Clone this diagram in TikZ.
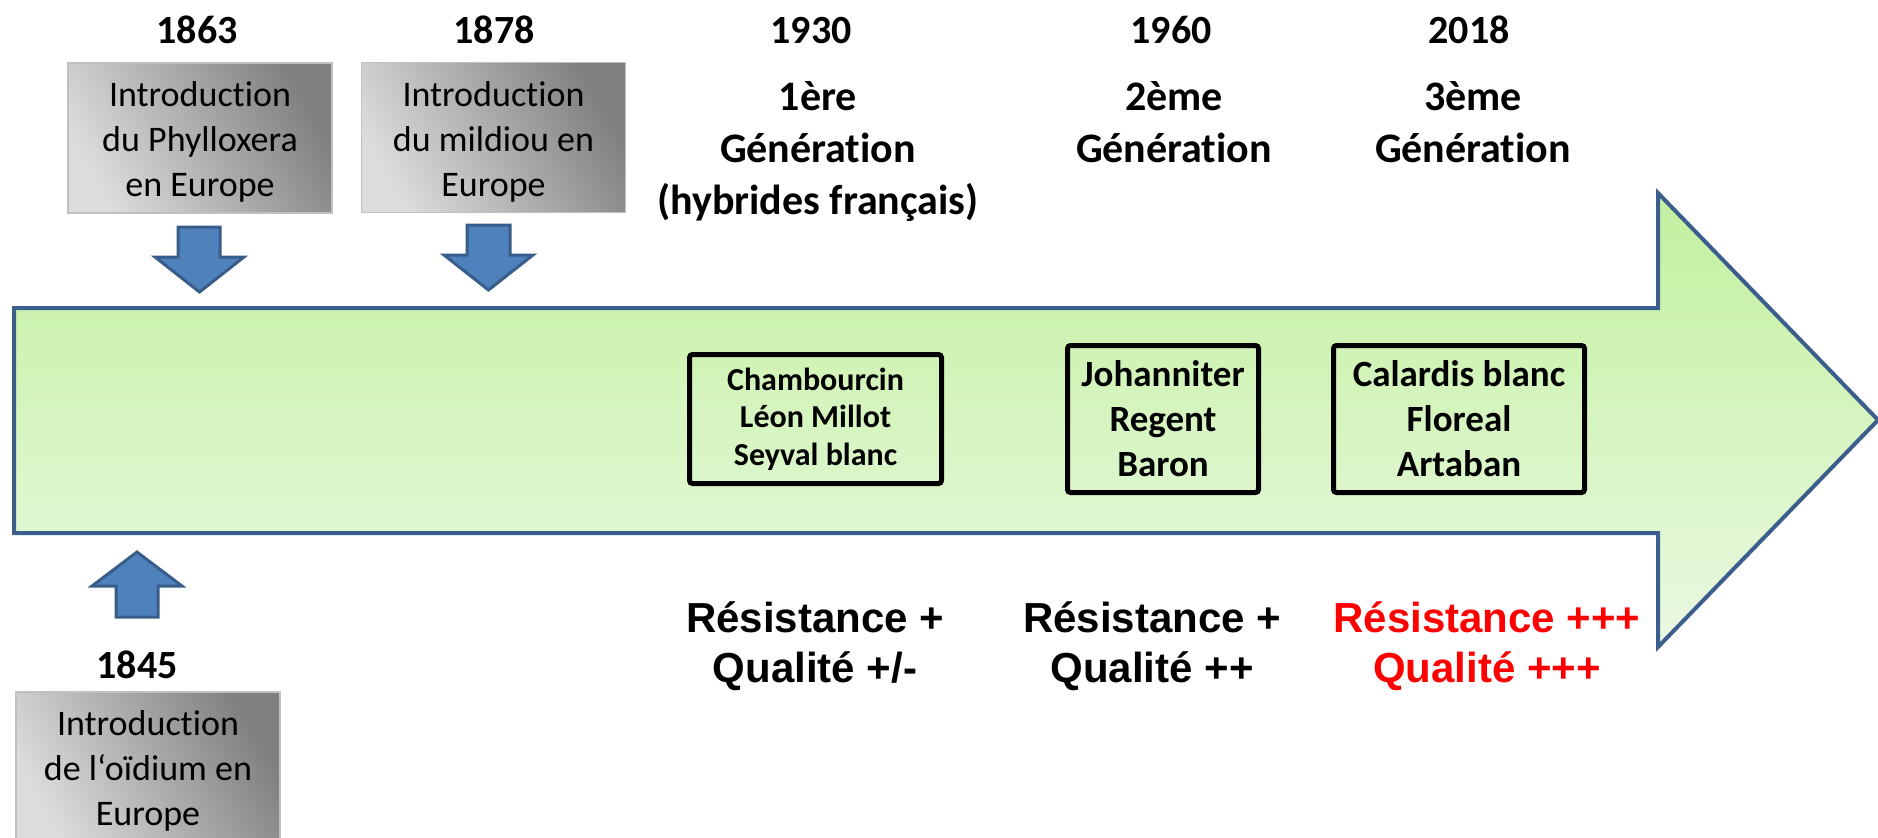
\documentclass[tikz,border=0pt]{standalone}
\usepackage{fontspec}
\setmainfont{Carlito}[Ligatures={NoCommon}]
\newfontfamily\arialfont{Liberation Sans}
\definecolor{arrowborder}{RGB}{59,94,140}
\definecolor{greentop}{RGB}{194,240,158}
\definecolor{greenbot}{RGB}{234,249,226}
\definecolor{blockfill}{RGB}{79,129,189}
\definecolor{blockborder}{RGB}{56,93,138}
\definecolor{graydark}{RGB}{128,128,128}
\definecolor{graylight}{RGB}{220,220,220}
\definecolor{grayborder}{RGB}{192,192,192}
\definecolor{resred}{RGB}{255,0,0}
\newcommand{\topstrut}{\rule{0pt}{16.5pt}}
\begin{document}
\begin{tikzpicture}[x=0.5pt,y=-0.5pt,
  graybox/.style={draw=grayborder, line width=0.8pt, top color=graydark, bottom color=graylight,
    shading angle=-60, minimum width=132pt, minimum height=75pt, inner sep=0pt, align=center,
    font=\fontsize{18}{22.5}\selectfont},
  yearlabel/.style={anchor=base, inner sep=0pt, font=\bfseries\fontsize{20}{24}\selectfont},
  genlabel/.style={anchor=base, inner sep=0pt, align=center, font=\bfseries\fontsize{21}{26}\selectfont},
  varbox/.style={draw=black, line width=2.5pt, rounded corners=1.5pt, inner sep=0pt, align=center,
    font=\bfseries\fontsize{18.5}{22.5}\selectfont},
  reslabel/.style={anchor=base, inner sep=0pt, align=center, font=\arialfont\bfseries\fontsize{21}{25}\selectfont},
  blockarrow/.style={fill=blockfill, draw=blockborder, line width=1.5pt, line join=miter},
  timeline/.style={draw=arrowborder, line width=2pt, line join=miter, top color=greentop, bottom color=greenbot}
]
\useasboundingbox (0,0) rectangle (1878,837);

% big timeline arrow
\path[timeline] (14,308) -- (1658,308) -- (1658,193) -- (1878,420) -- (1658,647) -- (1658,533) -- (14,533) -- cycle;

% years
\node[yearlabel] (y1863) at (197,43) {1863};
\node[yearlabel] (y1878) at (494,43) {1878};
\node[yearlabel] (y1930) at (811,43) {1930};
\node[yearlabel] (y1960) at (1171,43) {1960};
\node[yearlabel] (y2018) at (1469,43) {2018};
\node[yearlabel] (y1845) at (137,678) {1845};

% gray event boxes
\node[graybox] (phyl) at (200,138) {\topstrut Introduction\\du Phylloxera\\en Europe};
\node[graybox] (mild) at (493.5,137.5) {\topstrut Introduction\\du mildiou en\\Europe};
\node[graybox] (oid) at (148,767) {\topstrut Introduction\\de l‘oïdium en\\Europe};

% block arrows
\path[blockarrow] (178,227) -- (220,227) -- (220,257) -- (244,257) -- (199.5,292) -- (155,257) -- (178,257) -- cycle;
\path[blockarrow] (467,225) -- (510,225) -- (510,255) -- (533,255) -- (488.5,290) -- (444,255) -- (467,255) -- cycle;
\path[blockarrow] (116,617) -- (158,617) -- (158,586) -- (182,586) -- (137,552) -- (92,586) -- (116,586) -- cycle;

% generations (base = last line)
\node[genlabel] (g1) at (818,214) {1ère\\Génération\\(hybrides français)};
\node[genlabel] (g2) at (1174,162) {2ème\\Génération};
\node[genlabel] (g3) at (1473,162) {3ème\\Génération};

% variety boxes
\node[varbox, minimum width=126pt, minimum height=64.5pt, font=\bfseries\fontsize{16}{18.75}\selectfont] (vA) at (815.5,419)
  {Chambourcin\\Léon Millot\\Seyval blanc};
\node[varbox, minimum width=95.5pt, minimum height=73.5pt] (vB) at (1163,419) {Johanniter\\Regent\\Baron};
\node[varbox, minimum width=125.5pt, minimum height=73.5pt] (vC) at (1459,419) {Calardis blanc\\Floreal\\Artaban};

% resistance labels (base = last line)
\node[reslabel] (r1) at (815,682) {Résistance +\\Qualité +/-};
\node[reslabel] (r2) at (1152,682) {Résistance +\\Qualité ++};
\node[reslabel, text=resred] (r3) at (1487,682) {Résistance +++\\Qualité +++};
\end{tikzpicture}
\end{document}
